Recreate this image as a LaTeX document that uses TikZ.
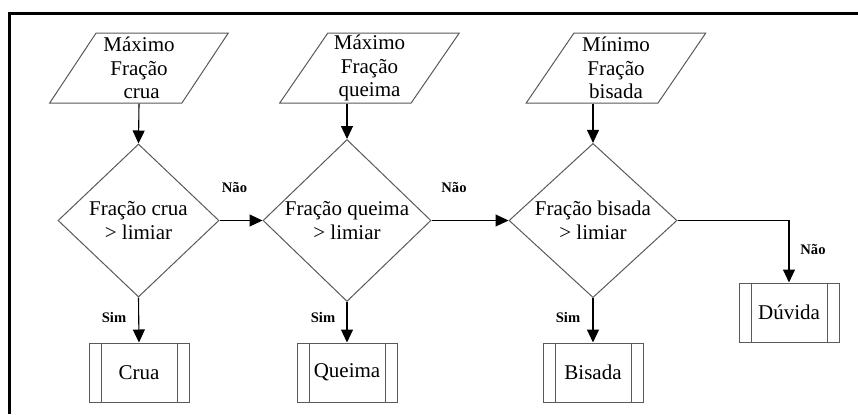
\documentclass[tikz,border=0pt]{standalone}
\usepackage{fontspec}
\setmainfont{Liberation Serif}
\usetikzlibrary{shapes.geometric,arrows.meta}
\begin{document}
\begin{tikzpicture}[x=0.5pt,y=-0.5pt,
  shapeline/.style={draw=black!65,line width=0.5pt},
  txt/.style={font=\fontsize{10.5pt}{11.7pt}\selectfont,align=center,inner sep=0pt},
  para/.style={shapeline,txt,trapezium,trapezium left angle=58,trapezium right angle=122,
    trapezium stretches=true,minimum width=90pt,minimum height=35pt},
  dia/.style={shapeline,txt,diamond,minimum height=76.5pt},
  proc/.style={shapeline,txt,rectangle,minimum width=50pt,minimum height=29.5pt,
    path picture={\draw[black!65,line width=0.5pt]
      ([xshift=6pt]path picture bounding box.north west) -- ([xshift=6pt]path picture bounding box.south west)
      ([xshift=-6pt]path picture bounding box.north east) -- ([xshift=-6pt]path picture bounding box.south east);}},
  arr/.style={draw=black,line width=0.55pt,-{Triangle[length=6.5pt,width=6pt]}},
  lbl/.style={font=\bfseries\fontsize{7.3pt}{8pt}\selectfont,inner sep=0pt},
  frame/.style={draw=black,line width=1.5pt}
]
\useasboundingbox (0,0) rectangle (858,414);
\coordinate (fa) at (9.5,414);
\coordinate (fb) at (9.5,13.5);
\coordinate (fc) at (858,13.5);
\draw[frame] (fa) -- (fb) -- (fc);

\node[para] (p1) at (139,68) {Máximo\\Fração\\\ crua};
\node[para] (p2) at (369.5,68) {Máximo\\Fração\\queima};
\node[para] (p3) at (616,68) {Mínimo\\Fração\\bisada};

\node[dia,minimum width=80.5pt] (d1) at (138.5,220.5) {Fração crua\\> limiar};
\node[dia,minimum width=84pt] (d2) at (347,220.5) {Fração queima\\> limiar};
\node[dia,minimum width=84pt] (d3) at (593,220.5) {Fração bisada\\> limiar};

\node[proc] (b1) at (139,372.5) {Crua};
\node[proc] (b2) at (347,372.5) {Queima};
\node[proc] (b3) at (593,372.5) {Bisada};
\node[proc] (b4) at (789,312.5) {Dúvida};

\draw[arr] (p1.south) -- (d1.north);
\draw[arr] (p2.south -| d2.north) -- (d2.north);
\draw[arr] (p3.south -| d3.north) -- (d3.north);
\draw[arr] (d1.east) -- (d2.west);
\draw[arr] (d2.east) -- (d3.west);
\draw[arr] (d3.east) -| (b4.north);
\draw[arr] (d1.south) -- (b1.north);
\draw[arr] (d2.south) -- (b2.north);
\draw[arr] (d3.south) -- (b3.north);

\node[lbl] (n1) at (234.5,187) {Não};
\node[lbl] (n2) at (454,187) {Não};
\node[lbl] (n3) at (813,249) {Não};
\node[lbl] (s1) at (114,317) {Sim};
\node[lbl] (s2) at (323,317) {Sim};
\node[lbl] (s3) at (568,317) {Sim};
\end{tikzpicture}
\end{document}
